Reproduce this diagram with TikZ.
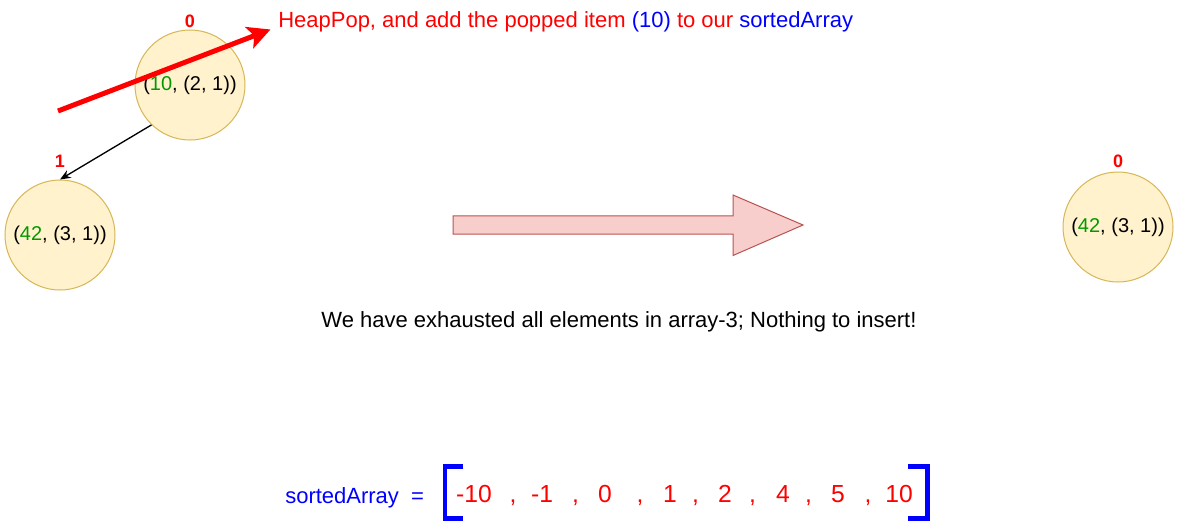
\documentclass[tikz,border=0pt]{standalone}
\usepackage{fontspec}
\setmainfont{Liberation Sans}
\usepackage{tikz}
\usetikzlibrary{arrows.meta}
\definecolor{heapfill}{HTML}{FFF2CC}
\definecolor{heapline}{HTML}{D6B656}
\definecolor{movefill}{HTML}{F8CECC}
\definecolor{moveline}{HTML}{B85450}
\definecolor{keygreen}{HTML}{009900}

\begin{document}
\begin{tikzpicture}[>=stealth,x=0.75pt,y=-0.75pt,
    heapnode/.style={circle,draw=heapline,fill=heapfill,line width=0.75pt,minimum size=82.5pt,inner sep=0pt,font=\fontsize{15}{18}\selectfont},
    idx/.style={red,inner sep=0pt,font=\bfseries\fontsize{13.5}{16}\selectfont},
    bigtext/.style={inner sep=0pt,font=\fontsize{16.5}{20}\selectfont},
    entry/.style={red,anchor=base,inner sep=0pt,font=\fontsize{18.5}{22}\selectfont},
    bracket/.style={blue,line width=3.5pt}]
\useasboundingbox (0,0) rectangle (1180,525);

%the heap before the pop
    \node[heapnode] (popped) at (190,85) {(\textcolor{keygreen}{10}, (2, 1))};
    \node[idx] (idxa) at (190,21) {0};
    \node[heapnode] (left) at (60,235) {(\textcolor{keygreen}{42}, (3, 1))};
    \node[idx] (idxb) at (60,161) {1};
    \draw[-{Stealth[length=8pt,width=6.5pt]},line width=1pt] (popped.226) -- (left.north);

%the pop itself
    \node[bigtext,red,anchor=base west] (title) at (278,27)
      {HeapPop, and add the popped item \textcolor{blue}{(10)} to our \textcolor{blue}{sortedArray}};
    \coordinate (popfrom) at (58,111);
    \coordinate (popto) at (270.5,29.5);
    \draw[red,line width=3.75pt,-{Stealth[length=17pt,width=17pt,inset=4pt]}] (popfrom) -- (popto);

%the move to the next state
    \def\tail{453};
    \def\neck{733};
    \def\tip{803};
    \draw[fill=movefill,draw=moveline,line width=0.75pt]
      (\tail,215.8) -- (\neck,215.8) -- (\neck,195) -- (\tip,225) -- (\neck,255.5) -- (\neck,234.2) -- (\tail,234.2) -- cycle;

%the heap after the pop
    \node[heapnode] (rest) at (1118,227) {(\textcolor{keygreen}{42}, (3, 1))};
    \node[idx] (idxc) at (1118,161.5) {0};

    \node[bigtext,anchor=base] (note) at (619,327) {We have exhausted all elements in array-3; Nothing to insert!};

%the sorted array
    \node[bigtext,blue,anchor=base west] (arrname) at (285,503) {sortedArray\ \ =};
    \draw[bracket] (463.3,466.6) -| (445,518.8) -- (463.3,518.8);
    \draw[bracket] (908,466.6) -| (927.5,518.8) -- (908,518.8);
    \foreach \v/\x in {-10/474,-1/542,0/605,1/670,2/725,4/783,5/838,10/899}
      \node[entry] (v\x) at (\x,502) {\v};
    \foreach \x in {513,575.5,640,695.5,752.5,808.5,868}
      \node[entry] (c\x) at (\x,502) {,};
\end{tikzpicture}
\end{document}
